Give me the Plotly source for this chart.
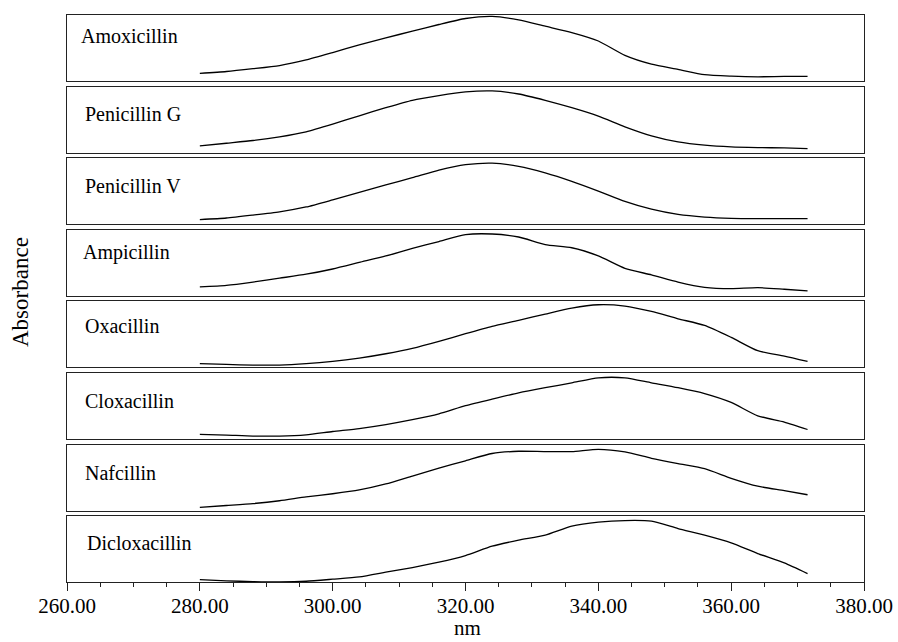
import plotly.graph_objects as go

# Wavelength grid (nm) shared by all spectra
WAVELENGTH = [280, 284, 288, 292, 296, 300, 304, 308, 312, 316, 320, 324,
              328, 332, 336, 340, 344, 348, 352, 356, 360, 364, 368, 371.5]

DRUGS = ["Amoxicillin", "Penicillin G", "Penicillin V", "Ampicillin",
         "Oxacillin", "Cloxacillin", "Nafcillin", "Dicloxacillin"]

# Relative absorbance of each compound on the wavelength grid
AMOXICILLIN = [0.117, 0.144, 0.186, 0.234, 0.319, 0.431, 0.548, 0.654, 0.755, 0.856, 0.947, 0.979,
               0.926, 0.830, 0.734, 0.606, 0.388, 0.255, 0.176, 0.096, 0.074, 0.064, 0.069, 0.069]
PENICILLIN_G = [0.102, 0.142, 0.183, 0.239, 0.315, 0.431, 0.558, 0.680, 0.792, 0.863, 0.919, 0.934,
                0.888, 0.792, 0.680, 0.553, 0.391, 0.254, 0.162, 0.112, 0.086, 0.076, 0.071, 0.061]
PENICILLIN_V = [0.069, 0.094, 0.138, 0.187, 0.261, 0.369, 0.483, 0.596, 0.704, 0.818, 0.901, 0.926,
                0.877, 0.778, 0.650, 0.502, 0.345, 0.227, 0.148, 0.108, 0.089, 0.084, 0.084, 0.084]
AMPICILLIN = [0.134, 0.158, 0.208, 0.267, 0.327, 0.406, 0.505, 0.604, 0.718, 0.822, 0.926, 0.936,
              0.891, 0.777, 0.728, 0.604, 0.416, 0.317, 0.208, 0.129, 0.109, 0.124, 0.099, 0.074]
OXACILLIN = [0.056, 0.045, 0.035, 0.035, 0.056, 0.091, 0.141, 0.207, 0.288, 0.394, 0.510, 0.621,
             0.712, 0.808, 0.899, 0.949, 0.929, 0.848, 0.737, 0.636, 0.455, 0.253, 0.172, 0.091]
CLOXACILLIN = [0.069, 0.059, 0.045, 0.045, 0.064, 0.114, 0.158, 0.218, 0.292, 0.381, 0.505, 0.604,
               0.698, 0.777, 0.851, 0.926, 0.926, 0.851, 0.777, 0.688, 0.554, 0.351, 0.257, 0.144]
NAFCILLIN = [0.048, 0.077, 0.106, 0.149, 0.207, 0.255, 0.313, 0.404, 0.524, 0.644, 0.755, 0.865,
             0.899, 0.894, 0.894, 0.928, 0.889, 0.793, 0.712, 0.635, 0.490, 0.370, 0.303, 0.240]
DICLOXACILLIN = [0.010, -0.010, -0.021, -0.026, -0.016, 0.016, 0.052, 0.125, 0.198, 0.281, 0.385, 0.531,
                 0.625, 0.703, 0.844, 0.906, 0.932, 0.922, 0.807, 0.703, 0.583, 0.417, 0.271, 0.104]

SPECTRA = [AMOXICILLIN, PENICILLIN_G, PENICILLIN_V, AMPICILLIN,
           OXACILLIN, CLOXACILLIN, NAFCILLIN, DICLOXACILLIN]

X_TICKS = [260, 280, 300, 320, 340, 360, 380]

# ---- page geometry (pixels) ----
W, H = 898, 642
LEFT, RIGHT = 67, 864
PANEL_TOP0, PANEL_STEP, PANEL_H = 15, 71.6, 66
LABEL_DX = [79, 83, 83, 81, 83, 83, 83, 85]
LABEL_DY = [21, 27, 28, 23, 25, 28, 28, 27]

SERIF = "Liberation Serif"
BOX = "#222222"


def py(px):
    return 1 - px / H


fig = go.Figure()
layout = dict(
    width=W, height=H,
    margin=dict(l=0, r=0, t=0, b=0, autoexpand=False),
    paper_bgcolor="white", plot_bgcolor="white",
    showlegend=False,
    font=dict(family=SERIF, color="black"),
)

annotations = []
n = len(DRUGS)
for i, (name, vals) in enumerate(zip(DRUGS, SPECTRA)):
    k = "" if i == 0 else str(i + 1)
    top = PANEL_TOP0 + i * PANEL_STEP
    bot = top + PANEL_H
    last = i == n - 1

    fig.add_trace(go.Scatter(
        x=WAVELENGTH, y=vals, mode="lines",
        line=dict(color="black", width=1.3, shape="spline", smoothing=0.6),
        xaxis="x" + k, yaxis="y" + k, hoverinfo="skip",
    ))

    xa = dict(
        domain=[LEFT / W, RIGHT / W], range=[260, 380],
        anchor="y" + k, automargin=False,
        showline=True, mirror=True, linecolor=BOX, linewidth=1.4,
        showgrid=False, zeroline=False,
    )
    if last:
        xa.update(
            tickmode="array", tickvals=X_TICKS,
            ticktext=[f"{v:.2f}" for v in X_TICKS],
            ticks="outside", ticklen=8, tickwidth=1.2, tickcolor=BOX,
            ticklabelstandoff=-4,
            tickfont=dict(family=SERIF, size=21, color="black"),
            minor=dict(dtick=5, tick0=260, ticks="outside", ticklen=4,
                       tickwidth=1.1, tickcolor=BOX, showgrid=False),
        )
    else:
        xa.update(showticklabels=False, ticks="")
    layout["xaxis" + k] = xa

    ymin = min(0, min(vals) - 0.005)
    layout["yaxis" + k] = dict(
        domain=[py(bot), py(top)], range=[ymin, 1.0],
        anchor="x" + k, automargin=False,
        showline=True, mirror=True, linecolor=BOX, linewidth=1.4,
        showgrid=False, zeroline=False, showticklabels=False, ticks="",
    )

    annotations.append(dict(
        text=name, xref="paper", yref="paper",
        x=LABEL_DX[i] / W, y=py(top + LABEL_DY[i]),
        xanchor="left", yanchor="middle", showarrow=False,
        font=dict(family=SERIF, size=20, color="black"),
    ))

annotations.append(dict(
    text="Absorbance", xref="paper", yref="paper",
    x=20 / W, y=py(292), textangle=-90,
    xanchor="center", yanchor="middle", showarrow=False,
    font=dict(family=SERIF, size=23, color="black"),
))
annotations.append(dict(
    text="nm", xref="paper", yref="paper",
    x=468 / W, y=py(628),
    xanchor="center", yanchor="middle", showarrow=False,
    font=dict(family=SERIF, size=21, color="black"),
))

layout["annotations"] = annotations
fig.update_layout(**layout)
fig.write_html("out.html")
